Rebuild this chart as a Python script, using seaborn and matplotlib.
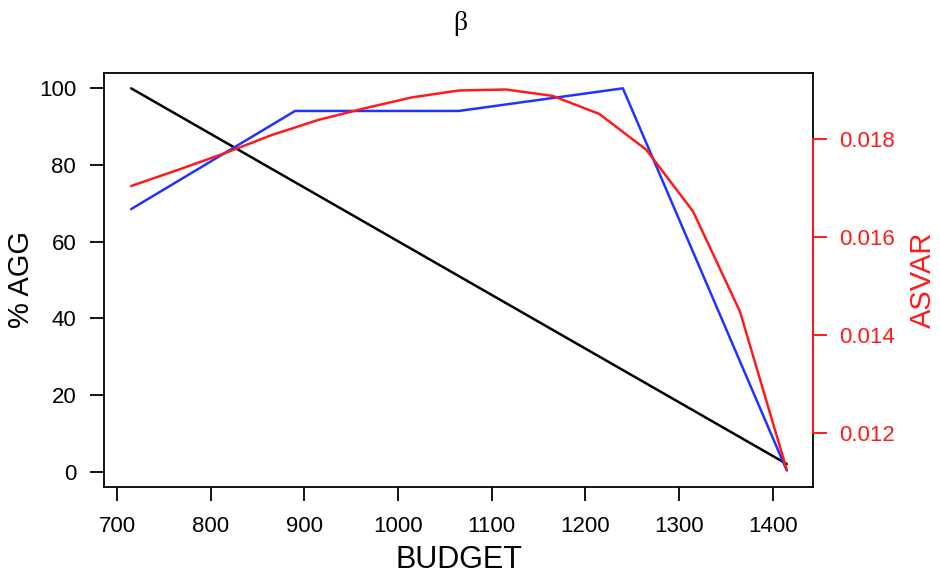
import matplotlib
matplotlib.use("Agg")
import matplotlib.pyplot as plt
import seaborn as sns
import pandas as pd

# ---- data ----
budget_agg = [715, 1415]
pct_agg = [100, 2]

budget_blue = [715, 890, 1065, 1240, 1415]
pct_blue = [68.5, 94.1, 94.1, 100, 0.3]

budget_asvar = [715, 765, 815, 865, 915, 965, 1015, 1065, 1115, 1165, 1215, 1265, 1315, 1365, 1415]
asvar = [0.01704, 0.01737, 0.01771, 0.01808, 0.01839, 0.01863, 0.01885, 0.01899, 0.01901,
         0.01888, 0.01851, 0.01778, 0.01652, 0.01448, 0.01125]

x_ticks = [700, 800, 900, 1000, 1100, 1200, 1300, 1400]
left_ticks = [0, 20, 40, 60, 80, 100]
right_ticks = [0.012, 0.014, 0.016, 0.018]
right_tick_labels = ["0.012", "0.014", "0.016", "0.018"]

# ---- style ----
sns.set_style("ticks")
plt.rcParams["font.family"] = ["Liberation Sans", "DejaVu Sans"]
plt.rcParams["text.color"] = "black"
plt.rcParams["axes.labelcolor"] = "black"
plt.rcParams["xtick.color"] = "black"
plt.rcParams["ytick.color"] = "black"

RED = "#FF1A1A"
BLUE = "#2233FF"

fig = plt.figure(figsize=(9.4, 5.76), dpi=100)
ax = fig.add_axes([104 / 940, 1 - 487 / 576, (813 - 104) / 940, (487 - 73) / 576])
ax2 = ax.twinx()

df_black = pd.DataFrame({"x": budget_agg, "y": pct_agg})
df_blue = pd.DataFrame({"x": budget_blue, "y": pct_blue})
df_red = pd.DataFrame({"x": budget_asvar, "y": asvar})

sns.lineplot(data=df_black, x="x", y="y", ax=ax, color="black", lw=1.8, estimator=None, sort=False)
sns.lineplot(data=df_blue, x="x", y="y", ax=ax, color=BLUE, lw=1.8, estimator=None, sort=False)
sns.lineplot(data=df_red, x="x", y="y", ax=ax2, color=RED, lw=1.8, estimator=None, sort=False)

ax.set_xlim(686, 1443)
ax.set_ylim(-4, 104)
ax2.set_ylim(0.010898, 0.019347)

ax.set_xticks(x_ticks)
ax.set_xticklabels([str(v) for v in x_ticks])
ax.set_yticks(left_ticks)
ax.set_yticklabels([str(v) for v in left_ticks])
ax2.set_yticks(right_ticks)
ax2.set_yticklabels(right_tick_labels)

for s in ax.spines.values():
    s.set_visible(True)
    s.set_color("black")
    s.set_linewidth(1.3)
for name in ["left", "top", "bottom"]:
    ax2.spines[name].set_visible(False)
ax2.spines["right"].set_color(RED)
ax2.spines["right"].set_linewidth(1.4)
ax2.spines["right"].set_bounds(0.012, 0.018)

ax.tick_params(axis="both", direction="out", length=10, width=1.3, color="black",
               labelcolor="black", labelsize=16, pad=10)
ax.tick_params(axis="x", pad=11)
ax2.tick_params(axis="y", direction="out", length=10, width=1.4, color=RED,
                labelcolor=RED, labelsize=16, pad=9)

ax.set_xlabel("BUDGET", fontsize=22, labelpad=6)
ax.set_ylabel("% AGG", fontsize=21, labelpad=3)
ax2.set_ylabel("ASVAR", fontsize=21, color=RED, labelpad=10)

fig.text(460 / 940, 1 - 23 / 576, "β", ha="center", va="center", fontsize=20,
         family=["Liberation Serif", "DejaVu Serif"])

fig.savefig("out.png", dpi=100)
